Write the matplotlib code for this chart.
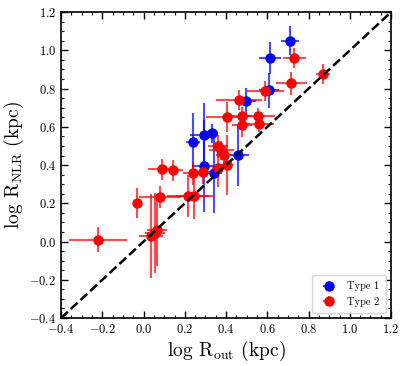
import matplotlib
matplotlib.use("Agg")
import matplotlib.pyplot as plt
from matplotlib.ticker import MultipleLocator

plt.rcParams['font.family'] = 'serif'
plt.rcParams['font.serif'] = ['cmr10', 'DejaVu Serif']
plt.rcParams['mathtext.fontset'] = 'cm'
plt.rcParams['axes.formatter.use_mathtext'] = True

# Type 1 (blue)
t1_x = [0.71, 0.613, 0.608, 0.497, 0.24, 0.293, 0.332, 0.458, 0.293, 0.342]
t1_y = [1.05, 0.96, 0.79, 0.735, 0.52, 0.557, 0.567, 0.452, 0.395, 0.36]
t1_xerr = [0.045, 0.053, 0.05, 0.05, 0.035, 0.07, 0.03, 0.055, 0.06, 0.04]
t1_yerr = [0.075, 0.085, 0.09, 0.07, 0.15, 0.17, 0.05, 0.16, 0.24, 0.21]

# Type 2 (red)
t2_x = [0.870, 0.730, 0.715, 0.589, 0.463, 0.405, 0.478, 0.555, 0.478, 0.560,
        0.361, 0.376, 0.390, 0.361, 0.405, 0.240, 0.288, 0.090, 0.143, -0.032,
        0.080, 0.216, 0.245, -0.221, 0.036, 0.055, 0.065]
t2_y = [0.876, 0.960, 0.829, 0.787, 0.740, 0.651, 0.656, 0.656, 0.609, 0.614,
        0.499, 0.478, 0.452, 0.384, 0.400, 0.358, 0.363, 0.379, 0.374, 0.201,
        0.233, 0.238, 0.238, 0.010, 0.029, 0.045, 0.060]
t2_xerr = [0.035, 0.055, 0.075, 0.09, 0.11, 0.10, 0.05, 0.08, 0.05, 0.07,
           0.05, 0.06, 0.04, 0.03, 0.03, 0.05, 0.05, 0.07, 0.05, 0.01,
           0.10, 0.10, 0.09, 0.14, 0.06, 0.05, 0.05]
t2_yerr = [0.05, 0.05, 0.06, 0.05, 0.05, 0.08, 0.05, 0.04, 0.06, 0.04,
           0.06, 0.05, 0.05, 0.10, 0.157, 0.06, 0.06, 0.055, 0.055, 0.08,
           0.06, 0.11, 0.12, 0.065, 0.22, 0.21, 0.19]

lims = [-0.4, 1.2]

fig = plt.figure(figsize=(4.07, 3.66), dpi=100)
ax = fig.add_axes([0.150, 0.131, 0.811, 0.836])

ax.errorbar(t1_x, t1_y, xerr=t1_xerr, yerr=t1_yerr, fmt='o', color='b',
            ecolor=(0, 0, 1, 0.7), elinewidth=1.5, markersize=6.5, capsize=0,
            label='Type 1', zorder=3)
ax.errorbar(t2_x, t2_y, xerr=t2_xerr, yerr=t2_yerr, fmt='o', color='r',
            ecolor=(1, 0, 0, 0.7), elinewidth=1.5, markersize=6.5, capsize=0,
            label='Type 2', zorder=3)
ax.plot(lims, lims, 'k--', lw=1.8, zorder=4)

ax.set_xlim(lims)
ax.set_ylim(lims)
ax.xaxis.set_major_locator(MultipleLocator(0.2))
ax.yaxis.set_major_locator(MultipleLocator(0.2))
ax.xaxis.set_minor_locator(MultipleLocator(0.05))
ax.yaxis.set_minor_locator(MultipleLocator(0.05))
ax.tick_params(which='both', direction='in', top=True, right=True, labelsize=9)
ax.tick_params(which='major', length=5, width=1)
ax.tick_params(which='minor', length=2.5, width=0.8)
for s in ax.spines.values():
    s.set_linewidth(1.2)

ax.set_xlabel(r'log R$_{\rm out}$ (kpc)', fontsize=14, labelpad=2)
ax.set_ylabel(r'log R$_{\rm NLR}$ (kpc)', fontsize=14, labelpad=2)

ax.legend(loc='lower right', fontsize=7.5, handletextpad=0.8, borderpad=0.6,
          markerscale=1.0)

fig.savefig('out.png', dpi=100)
